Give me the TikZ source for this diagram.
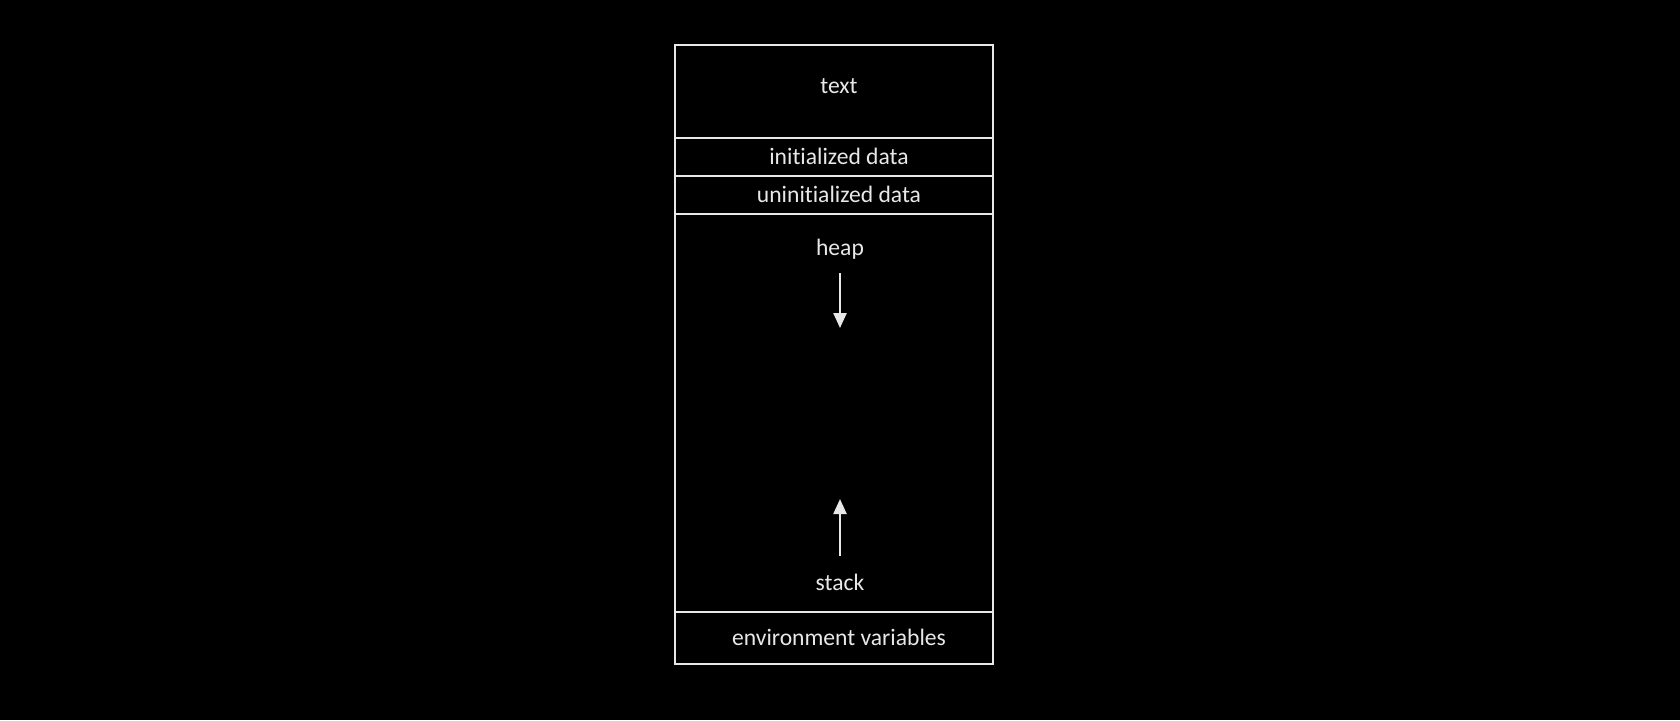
\documentclass[tikz,border=0pt]{standalone}
\usepackage{fontspec}
\setmainfont{Carlito}[Ligatures={NoCommon}]
\usetikzlibrary{arrows.meta}
\definecolor{chalk}{HTML}{E8E8E8}

\begin{document}
\begin{tikzpicture}[
        x=0.5pt, y=-0.5pt,
        segment/.style={
            draw=chalk,
            line width=1.2pt,
            rectangle,
            inner sep=0pt,
            minimum width=159pt
        },
        label/.style={
            text=chalk,
            anchor=base,
            font=\fontsize{11.8}{14}\selectfont
        },
        arrow/.style={
            -{Triangle[width=6.5pt,length=7.5pt]},
            draw=chalk,
            line width=1.2pt
        }
    ]

    \fill[black] (0,0) rectangle (1680,720);
    \useasboundingbox (0,0) rectangle (1680,720);

    \node[segment, minimum height=46.5pt] (textseg) at (834, 91.5) {};
    \node[segment, minimum height=19pt] (initdata) at (834, 157) {};
    \node[segment, minimum height=19pt] (uninitdata) at (834, 195) {};
    \node[segment, minimum height=199pt] (heapstack) at (834, 413) {};
    \node[segment, minimum height=26pt] (environ) at (834, 638) {};

    \node[label] (textlbl) at (839, 93) {text};
    \node[label] (initlbl) at (839, 164) {initialized data};
    \node[label] (uninitlbl) at (839, 202) {uninitialized data};
    \node[label] (heaplbl) at (840, 255) {heap};
    \node[label] (stacklbl) at (840, 590) {stack};
    \node[label] (envlbl) at (839, 645) {environment variables};

    \coordinate (heaptop) at (840, 273);
    \coordinate (heapend) at (840, 328);
    \coordinate (stackbot) at (840, 556);
    \coordinate (stackend) at (840, 499);

    \draw[arrow] (heaptop) -- (heapend);
    \draw[arrow] (stackbot) -- (stackend);

\end{tikzpicture}
\end{document}
